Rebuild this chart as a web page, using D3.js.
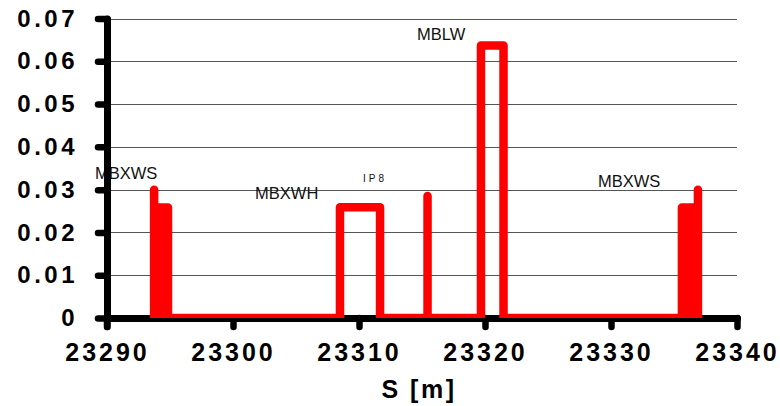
<!DOCTYPE html>
<html>
<head>
<meta charset="utf-8">
<script src="https://cdn.jsdelivr.net/npm/d3@7"></script>
<style>
body { margin: 0; background: white; }
</style>
</head>
<body>
<svg></svg>
<script>
var w = 780;
var h = 406;

// beam profile along S (step line)
const profileS = [23293.74, 23293.74, 23293.74, 23294.84, 23294.84,
	23308.49, 23308.49, 23311.67, 23311.67,
	23315.44, 23315.44, 23315.44,
	23319.68, 23319.68, 23321.47, 23321.47,
	23335.63, 23335.63, 23336.90, 23336.90, 23336.90];
const profileV = [0, 0.030, 0.0258, 0.0258, 0,
	0, 0.0259, 0.0259, 0,
	0, 0.0285, 0,
	0, 0.0637, 0.0637, 0,
	0, 0.0258, 0.0258, 0.030, 0];

// dense (filled) elements
const filledRanges = [[23293.74, 23294.84], [23335.63, 23336.90]];

const sTicks = [23290, 23300, 23310, 23320, 23330, 23340];
const vTicks = [0, 0.01, 0.02, 0.03, 0.04, 0.05, 0.06, 0.07];
const vTickLabels = ["0", "0.01", "0.02", "0.03", "0.04", "0.05", "0.06", "0.07"];

const labelNames = ["MBXWS", "MBXWH", "IP8", "MBLW", "MBXWS"];
const labelS = [23289.05, 23301.75, 23310.32, 23314.6, 23328.97];
const labelV = [0.0325, 0.0278, 0.0318, 0.065, 0.0306];

var profile = profileS.map(function (s, i) { return { s: s, v: profileV[i] }; });

var canvas = d3.select("svg")
	.attr("width", w)
	.attr("height", h)
	.style("background-color", "white");

var x = d3.scaleLinear().domain([23290, 23340]).range([107, 737]);
var y = d3.scaleLinear().domain([0, 0.07]).range([318, 18.5]);

canvas.append("defs").append("clipPath")
	.attr("id", "plotClip")
	.append("rect")
	.attr("x", 0).attr("y", 0)
	.attr("width", w).attr("height", y(0));

// grid
canvas.append("g")
	.selectAll("line")
	.data(vTicks.filter(function (d) { return d > 0; }))
	.join("line")
	.attr("x1", x(23290))
	.attr("x2", x(23340))
	.attr("y1", function (d) { return Math.round(y(d)) + 0.5; })
	.attr("y2", function (d) { return Math.round(y(d)) + 0.5; })
	.attr("stroke", "#555")
	.attr("stroke-width", 1);

// element labels
canvas.append("g")
	.selectAll("text")
	.data(labelNames)
	.join("text")
	.attr("x", function (d, i) { return x(labelS[i]); })
	.attr("y", function (d, i) { return y(labelV[i]); })
	.attr("font-family", "Liberation Sans, Arial, sans-serif")
	.attr("font-size", function (d) { return d === "IP8" ? 10 : 16.5; })
	.attr("letter-spacing", function (d) { return d === "IP8" ? 3 : 0; })
	.attr("fill", "#111")
	.text(function (d) { return d; });

// x axis
var xAxis = canvas.append("g")
	.attr("transform", "translate(0," + y(0) + ")")
	.call(d3.axisBottom(x).tickValues(sTicks).tickSize(9).tickSizeOuter(0).tickPadding(16)
		.tickFormat(function (d) { return String(d); }));
xAxis.select(".domain")
	.attr("stroke", "black")
	.attr("stroke-width", 7)
	.attr("stroke-linecap", "round");
xAxis.selectAll(".tick line")
	.attr("stroke", "black")
	.attr("stroke-width", 6.5)
	.attr("stroke-linecap", "round");
xAxis.selectAll(".tick text")
	.attr("font-family", "Liberation Sans, Arial, sans-serif")
	.attr("font-weight", "bold")
	.attr("font-size", 25)
	.attr("letter-spacing", 3)
	.attr("fill", "black");

// data
var plot = canvas.append("g").attr("clip-path", "url(#plotClip)");

var inFilled = function (d) {
	return filledRanges.some(function (r) { return d.s >= r[0] && d.s <= r[1]; });
};

plot.append("path")
	.datum(profile)
	.attr("d", d3.area()
		.defined(inFilled)
		.x(function (d) { return x(d.s); })
		.y0(y(0))
		.y1(function (d) { return y(d.v); }))
	.attr("fill", "#ff0000");

plot.append("path")
	.datum(profile)
	.attr("d", d3.line()
		.x(function (d) { return x(d.s); })
		.y(function (d) { return y(d.v); }))
	.attr("fill", "none")
	.attr("stroke", "#ff0000")
	.attr("stroke-width", 8.5)
	.attr("stroke-linejoin", "round")
	.attr("stroke-linecap", "round");

// y axis
var yAxis = canvas.append("g")
	.attr("transform", "translate(" + x(23290) + ",0)")
	.call(d3.axisLeft(y).tickValues(vTicks).tickSize(9).tickSizeOuter(0).tickPadding(20)
		.tickFormat(function (d, i) { return vTickLabels[i]; }));
yAxis.select(".domain")
	.attr("stroke", "black")
	.attr("stroke-width", 7)
	.attr("stroke-linecap", "round");
yAxis.selectAll(".tick line")
	.attr("stroke", "black")
	.attr("stroke-width", 6.5)
	.attr("stroke-linecap", "round");
yAxis.selectAll(".tick text")
	.attr("font-family", "Liberation Sans, Arial, sans-serif")
	.attr("font-weight", "bold")
	.attr("font-size", 24)
	.attr("letter-spacing", 3.5)
	.attr("fill", "black");

// x axis tick at 23290 extends below, through the y axis line
canvas.append("line")
	.attr("x1", x(23290)).attr("x2", x(23290))
	.attr("y1", y(0)).attr("y2", y(0) + 9)
	.attr("stroke", "black")
	.attr("stroke-width", 6.5)
	.attr("stroke-linecap", "round");

// axis title
canvas.append("text")
	.attr("x", 419)
	.attr("y", 398)
	.attr("text-anchor", "middle")
	.attr("font-family", "Liberation Sans, Arial, sans-serif")
	.attr("font-weight", "bold")
	.attr("font-size", 25)
	.attr("letter-spacing", 2.5)
	.attr("fill", "black")
	.text("S [m]");
</script>
</body>
</html>
